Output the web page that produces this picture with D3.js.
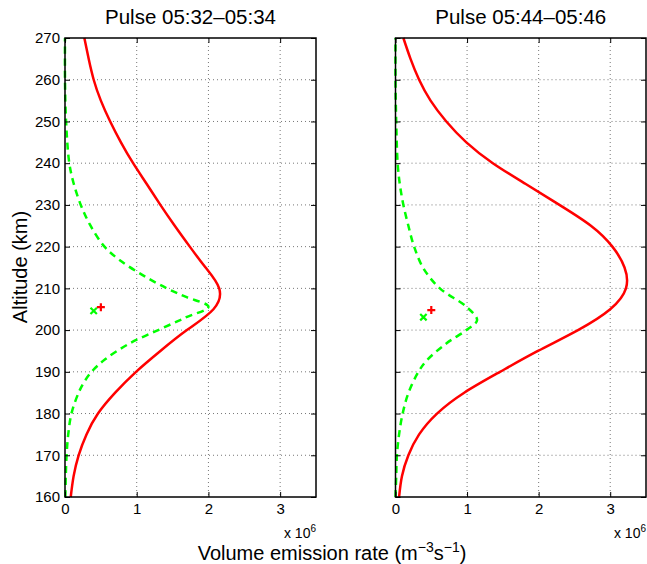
<!DOCTYPE html>
<html>
<head>
<meta charset="utf-8">
<script src="https://cdn.jsdelivr.net/npm/d3@7"></script>
<style>
  html, body { margin: 0; padding: 0; background: #fff; }
  svg { display: block; font-family: "Liberation Sans", Arial, Helvetica, sans-serif; }
</style>
</head>
<body>
<svg id="chart" width="647" height="564"></svg>
<script>
// Panel titles
const titles = ["Pulse 05:32\u201305:34", "Pulse 05:44\u201305:46"];

// Axis ticks
const xTicks = [0, 1, 2, 3];
const yTicks = [160, 170, 180, 190, 200, 210, 220, 230, 240, 250, 260, 270];

// Altitude grid of the red profiles (km)
const altRed = [160, 165, 170, 175, 180, 185, 190, 195, 200, 205, 210, 215, 220, 225, 230, 235, 240, 245, 250, 255, 260, 265, 270];

// Pulse 05:32–05:34 : red solid profile (rate ×10^6 m^-3 s^-1)
const valRedA = [0.08, 0.12, 0.19, 0.30, 0.46, 0.70, 0.99, 1.33, 1.70, 2.07, 2.15, 1.96, 1.74, 1.53, 1.33, 1.14, 0.95, 0.78, 0.63, 0.50, 0.40, 0.33, 0.27];

// Pulse 05:44–05:46 : red solid profile
const valRedB = [0.05, 0.09, 0.18, 0.33, 0.58, 0.96, 1.46, 1.99, 2.55, 3.00, 3.22, 3.20, 3.03, 2.73, 2.29, 1.82, 1.36, 0.99, 0.71, 0.49, 0.33, 0.21, 0.11];

// Pulse 05:32–05:34 : green dashed profile
const altGreenA = [160, 165, 170, 175, 180, 185, 187.5, 190, 193, 196.8, 200, 203, 205.6, 208, 210, 213, 216.8, 220, 225.2, 230, 235.2, 240, 250, 260, 270];
const valGreenA = [0.005, 0.011, 0.022, 0.045, 0.09, 0.19, 0.265, 0.37, 0.56, 0.90, 1.30, 1.68, 2.0, 1.68, 1.42, 1.10, 0.76, 0.55, 0.35, 0.22, 0.12, 0.06, 0.015, 0.0, 0.0];

// Pulse 05:44–05:46 : green dashed profile
const altGreenB = [160, 165, 170, 175, 180, 184.9, 190, 192.8, 196.8, 200, 202.4, 205.6, 210, 214.8, 220, 225, 230, 235, 240, 250, 260, 270];
const valGreenB = [0.0, 0.01, 0.02, 0.05, 0.10, 0.18, 0.32, 0.44, 0.71, 0.99, 1.14, 0.99, 0.62, 0.39, 0.26, 0.18, 0.11, 0.06, 0.03, 0.01, 0.0, 0.0];

// Single-point markers: [rate, altitude]
const plusA = [0.50, 205.5], crossA = [0.40, 204.6];
const plusB = [0.50, 204.8], crossB = [0.39, 203.1];

const panels = [
  { left: 65,    right: 316, title: titles[0], red: [altRed, valRedA], green: [altGreenA, valGreenA], plus: plusA, cross: crossA, yLabels: true },
  { left: 395.5, right: 646, title: titles[1], red: [altRed, valRedB], green: [altGreenB, valGreenB], plus: plusB, cross: crossB, yLabels: false }
];
const plotTop = 38, plotBottom = 497;

const svg = d3.select("#chart");

const y = d3.scaleLinear().domain([160, 270]).range([plotBottom, plotTop]);

panels.forEach(p => {
  const x = d3.scaleLinear().domain([0, 3.5]).range([p.left, p.right]);
  const g = svg.append("g");

  // dotted grid
  g.selectAll(".gx").data(xTicks.filter(d => d > 0)).join("line")
    .attr("x1", d => x(d)).attr("x2", d => x(d))
    .attr("y1", plotTop).attr("y2", plotBottom)
    .attr("stroke", "#777").attr("stroke-width", 1).attr("stroke-dasharray", "1,3");
  g.selectAll(".gy").data(yTicks.filter(d => d > 160 && d < 270)).join("line")
    .attr("x1", p.left).attr("x2", p.right)
    .attr("y1", d => y(d)).attr("y2", d => y(d))
    .attr("stroke", "#777").attr("stroke-width", 1).attr("stroke-dasharray", "1,3");

  // profiles: rate as a smooth function of altitude
  const redLine = d3.line().x(d => x(d[1])).y(d => y(d[0])).curve(d3.curveNatural);
  const greenLine = d3.line().x(d => x(d[1])).y(d => y(d[0])).curve(d3.curveCatmullRom.alpha(0.5));
  const redPts = p.red[0].map((a, i) => [a, p.red[1][i]]);
  const greenPts = p.green[0].map((a, i) => [a, p.green[1][i]]);

  g.append("path").datum(greenPts).attr("d", greenLine)
    .attr("fill", "none").attr("stroke", "#00ff00").attr("stroke-width", 2.5)
    .attr("stroke-dasharray", "7,5");
  g.append("path").datum(redPts).attr("d", redLine)
    .attr("fill", "none").attr("stroke", "#ff0000").attr("stroke-width", 2.5);

  // markers
  const cx = x(p.cross[0]), cy = y(p.cross[1]), s = 3.2;
  g.append("path").attr("d", `M${cx - s},${cy - s}L${cx + s},${cy + s}M${cx - s},${cy + s}L${cx + s},${cy - s}`)
    .attr("stroke", "#00ff00").attr("stroke-width", 2.2).attr("fill", "none");
  const px = x(p.plus[0]), py = y(p.plus[1]), r = 4;
  g.append("path").attr("d", `M${px - r},${py}L${px + r},${py}M${px},${py - r}L${px},${py + r}`)
    .attr("stroke", "#ff0000").attr("stroke-width", 2.2).attr("fill", "none");

  // axes (ticks inward on all sides)
  const tl = 5;
  g.append("g").attr("transform", `translate(0,${plotBottom})`)
    .call(d3.axisBottom(x).tickValues(xTicks).tickSizeInner(-tl).tickSizeOuter(0).tickPadding(6).tickFormat(d3.format("d")))
    .call(a => a.select(".domain").remove());
  g.append("g").attr("transform", `translate(0,${plotTop})`)
    .call(d3.axisTop(x).tickValues(xTicks).tickSizeInner(-tl).tickSizeOuter(0).tickFormat(""))
    .call(a => a.select(".domain").remove());
  g.append("g").attr("transform", `translate(${p.left},0)`)
    .call(d3.axisLeft(y).tickValues(yTicks).tickSizeInner(-tl).tickSizeOuter(0).tickPadding(5)
      .tickFormat(p.yLabels ? d3.format("d") : ""))
    .call(a => a.select(".domain").remove());
  g.append("g").attr("transform", `translate(${p.right},0)`)
    .call(d3.axisRight(y).tickValues(yTicks).tickSizeInner(-tl).tickSizeOuter(0).tickFormat(""))
    .call(a => a.select(".domain").remove());

  g.selectAll(".tick line").attr("stroke", "#000").attr("stroke-width", 1);
  g.selectAll(".tick text").attr("font-size", 15).attr("fill", "#000")
    .attr("font-family", "'Liberation Sans', Arial, sans-serif");

  // box
  g.append("rect").attr("x", p.left).attr("y", plotTop)
    .attr("width", p.right - p.left).attr("height", plotBottom - plotTop)
    .attr("fill", "none").attr("stroke", "#000").attr("stroke-width", 1.5);

  // title
  g.append("text").attr("x", (p.left + p.right) / 2).attr("y", 24)
    .attr("text-anchor", "middle").attr("font-size", 20.5).attr("fill", "#000")
    .text(p.title);

  // exponent note
  const e = g.append("text").attr("x", p.right).attr("y", 538)
    .attr("text-anchor", "end").attr("font-size", 14).attr("fill", "#000");
  e.append("tspan").text("x 10");
  e.append("tspan").attr("font-size", 10).attr("dy", -6).text("6");
});

// axis titles
const xl = svg.append("text").attr("x", 332).attr("y", 560)
  .attr("text-anchor", "middle").attr("font-size", 20).attr("fill", "#000");
xl.append("tspan").text("Volume emission rate (m");
xl.append("tspan").attr("font-size", 14).attr("dy", -8).text("\u22123");
xl.append("tspan").attr("dy", 8).text("s");
xl.append("tspan").attr("font-size", 14).attr("dy", -8).text("\u22121");
xl.append("tspan").attr("dy", 8).text(")");

svg.append("text").attr("transform", "translate(27,267) rotate(-90)")
  .attr("text-anchor", "middle").attr("font-size", 20).attr("fill", "#000")
  .text("Altitude (km)");
</script>
</body>
</html>
